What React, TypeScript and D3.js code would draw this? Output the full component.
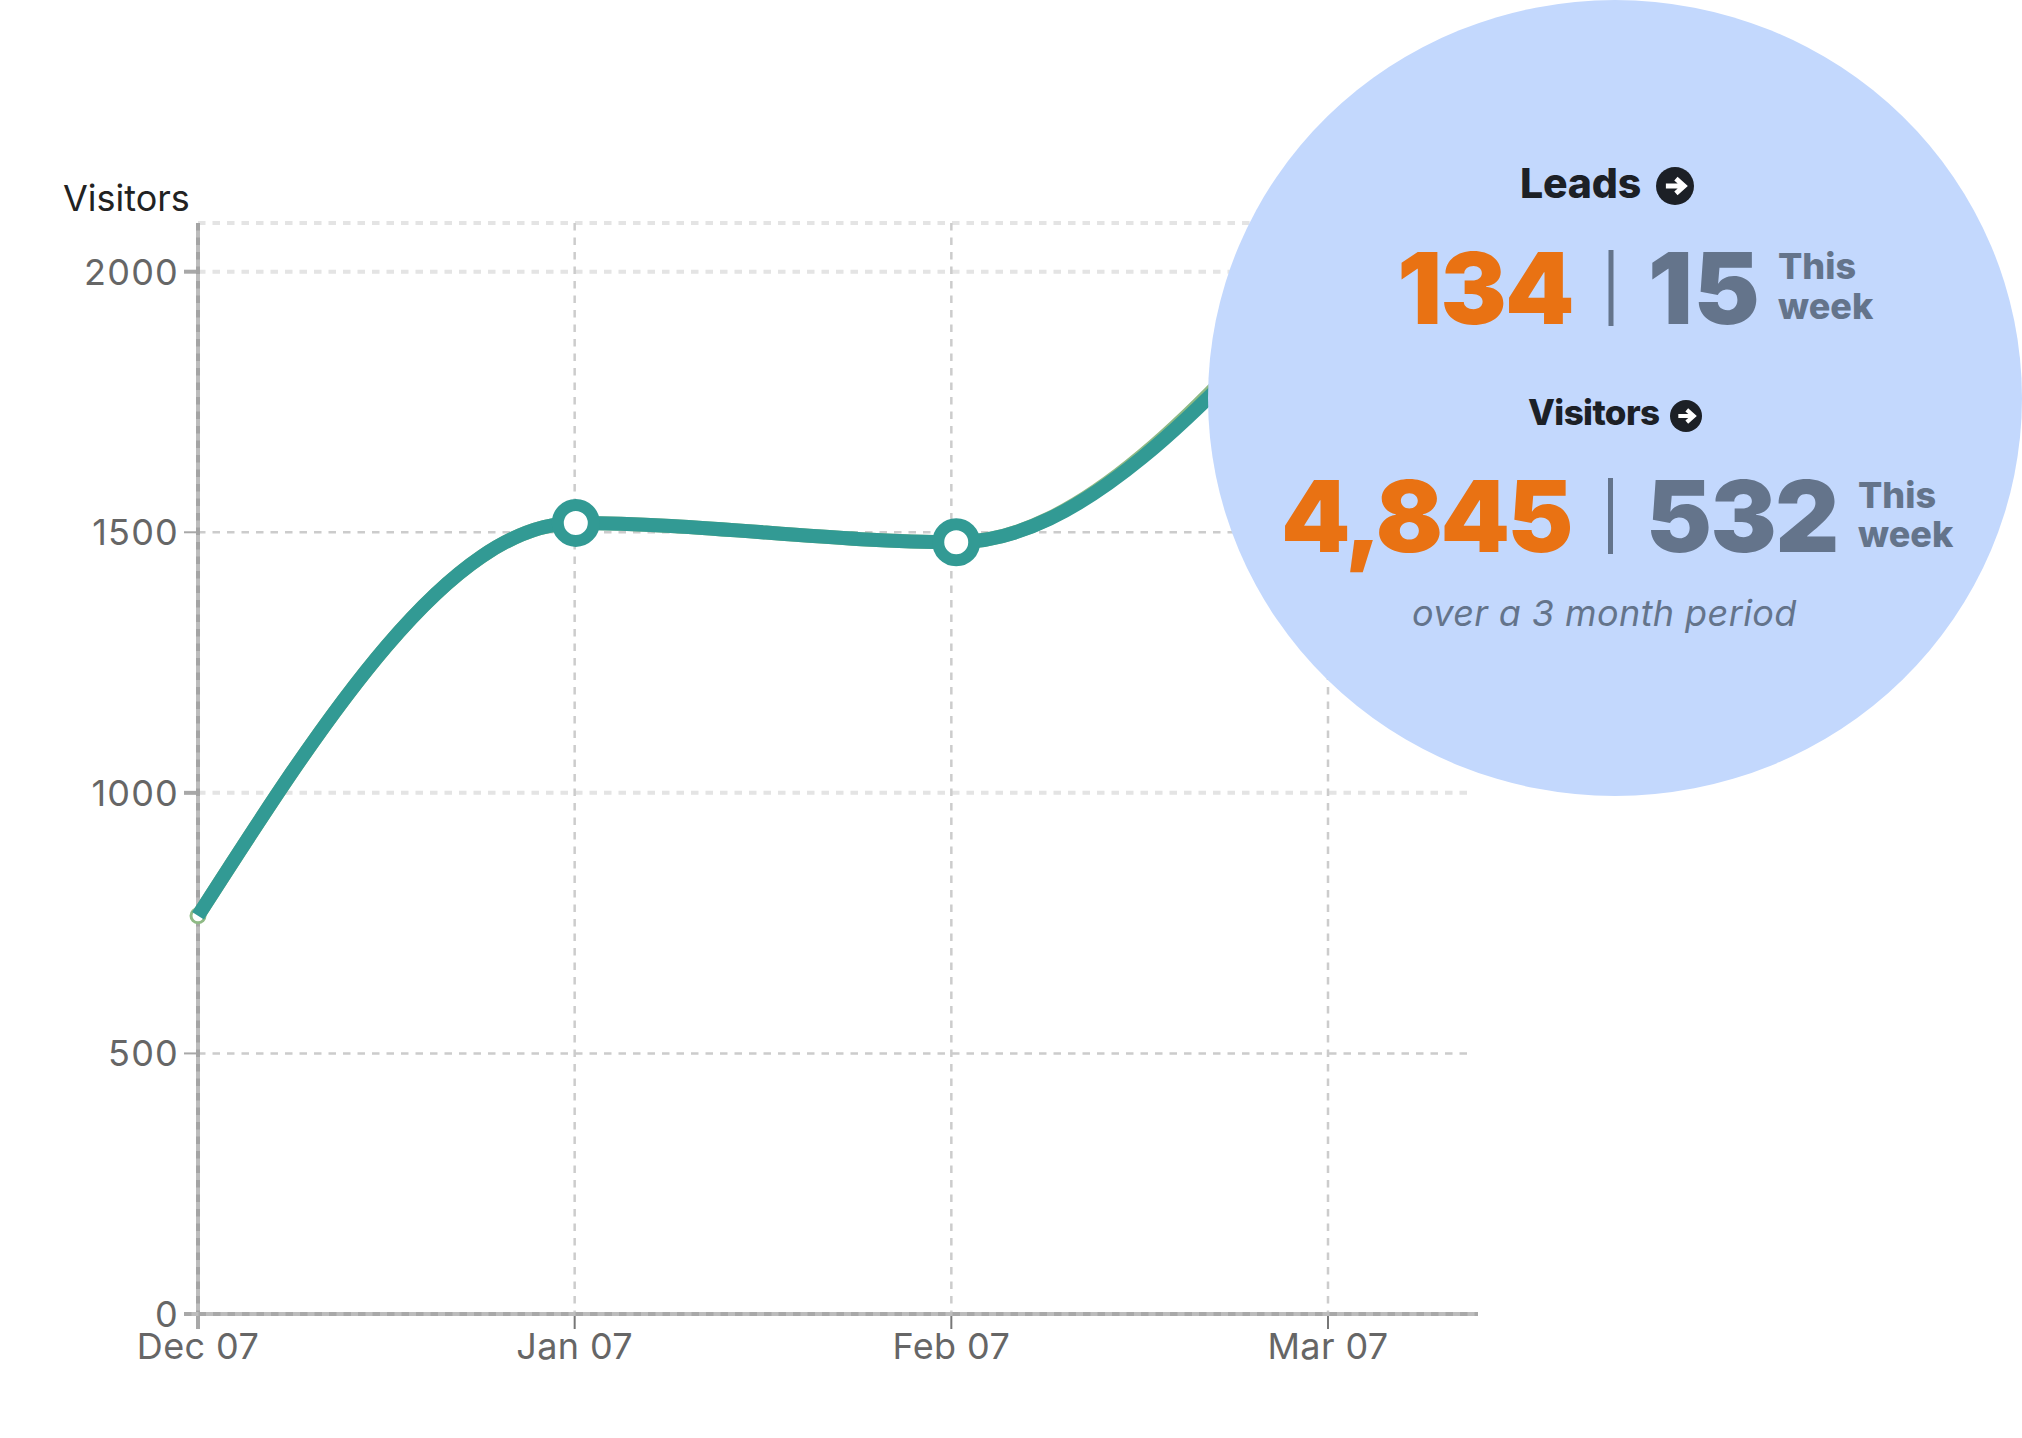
import React from 'react';
import * as d3 from 'd3';

const monthLabels = ['Dec 07', 'Jan 07', 'Feb 07', 'Mar 07'];
const yTicks = [0, 500, 1000, 1500, 2000];

// month position of each point (markers sit a bit right of the grid)
const pointMonths = [0, 1.003, 2.013, 3];
const visitorValues = [764, 1518, 1481, 2000];
// a second series hiding under the first one, only shows as a fringe after Feb
const fringeValues = [764, 1518, 1481, 2012];

const leads = { total: '134', week: '15' };
const visitors = { total: '4,845', week: '532' };

const FONT = 'Inter, Lato, sans-serif';
const TEAL = '#329a94';
const ORANGE = '#e97213';
const SLATE = '#64748b';
const INK = '#1c2026';

const width = 2022;
const height = 1438;

const x = d3.scaleLinear().domain([0, 3]).range([198, 1328]);
const y = d3.scaleLinear().domain([0, 2000]).range([1314, 271.7]);

const gridTop = 223;
const gridRight = 1472;

const lineGen = d3
  .line<number>()
  .x((_, i) => x(pointMonths[i]))
  .y((d) => y(d))
  .curve(d3.curveMonotoneX);

const Arrow: React.FC<{ cx: number; cy: number; r: number }> = ({ cx, cy, r }) => {
  const s = r * 0.48;
  return (
    <g>
      <circle cx={cx} cy={cy} r={r} fill={INK} />
      <path
        d={`M ${cx - s} ${cy} L ${cx + s} ${cy} M ${cx + s * 0.1} ${cy - s * 0.8} L ${cx + s} ${cy} L ${cx + s * 0.1} ${cy + s * 0.8}`}
        fill="none"
        stroke="#fff"
        strokeWidth={r * 0.26}
      />
    </g>
  );
};

const App: React.FC = () => {
  return (
    <svg
      width={width}
      height={height}
      viewBox={`0 0 ${width} ${height}`}
      style={{ position: 'absolute', left: 0, top: 0, background: '#fff', fontFamily: FONT }}
    >
      {/* top grid line */}
      <line x1={x(0)} x2={gridRight} y1={gridTop} y2={gridTop} stroke="#e4e4e4" strokeWidth={4} strokeDasharray="7.5 7" />

      {/* horizontal grid and y ticks */}
      {yTicks.map((t) => {
        const thick = t === 2000 || t === 1000;
        return (
          <g key={t}>
            {t > 0 && (
              <line
                x1={x(0)}
                x2={gridRight}
                y1={y(t)}
                y2={y(t)}
                stroke={thick ? '#e4e4e4' : '#cccccc'}
                strokeWidth={thick ? 4 : 2.5}
                strokeDasharray="7.5 7"
              />
            )}
            <line x1={184} x2={x(0)} y1={y(t)} y2={y(t)} stroke="#a8a8a8" strokeWidth={thick || t === 0 ? 4 : 2} />
            <text x={179} y={y(t) + 13} textAnchor="end" fontSize={36} fill="#666" letterSpacing={1.2}>
              {t}
            </text>
          </g>
        );
      })}

      {/* vertical grid and x ticks */}
      {monthLabels.map((m, i) => (
        <g key={m}>
          {i > 0 && (
            <line x1={x(i)} x2={x(i)} y1={gridTop} y2={y(0)} stroke="#cccccc" strokeWidth={2.5} strokeDasharray="7.5 7" />
          )}
          <line x1={x(i)} x2={x(i)} y1={y(0)} y2={1329} stroke={i === 0 ? '#a8a8a8' : '#777'} strokeWidth={i === 0 ? 4 : 2} />
          <text x={x(i)} y={1359} textAnchor="middle" fontSize={36} fill="#666" letterSpacing={0.4}>
            {m}
          </text>
        </g>
      ))}

      {/* axes, with the dashed grid showing through */}
      <line x1={x(0)} x2={x(0)} y1={gridTop} y2={y(0)} stroke="#bcbcbc" strokeWidth={4} />
      <line x1={x(0)} x2={x(0)} y1={gridTop} y2={y(0)} stroke="#a4a4a4" strokeWidth={4} strokeDasharray="7.5 7" />
      <line x1={184} x2={1478} y1={y(0)} y2={y(0)} stroke="#bcbcbc" strokeWidth={4} />
      <line x1={184} x2={1478} y1={y(0)} y2={y(0)} stroke="#a8a8a8" strokeWidth={4} strokeDasharray="7.5 7" />

      <text x={63} y={211} fontSize={36} fill="#222">
        Visitors
      </text>

      {/* series */}
      <path d={lineGen(fringeValues) ?? ''} fill="none" stroke="#8fba85" strokeWidth={14} />
      <circle cx={x(pointMonths[0])} cy={y(visitorValues[0])} r={7} fill="#fff" stroke="#8fba85" strokeWidth={3} />
      <path d={lineGen(visitorValues) ?? ''} fill="none" stroke={TEAL} strokeWidth={14} />
      {visitorValues.slice(1, 3).map((v, i) => (
        <circle key={i} cx={x(pointMonths[i + 1])} cy={y(v)} r={18} fill="#fff" stroke={TEAL} strokeWidth={12} />
      ))}

      {/* summary bubble */}
      <ellipse cx={1615} cy={398} rx={407} ry={398} fill="#c3d8fd" />

      <text x={1520} y={198} fontSize={41} fontWeight={800} fill={INK} letterSpacing={-0.2}>
        Leads
      </text>
      <Arrow cx={1675} cy={186} r={19} />

      <text x={1573} y={324} textAnchor="end" fontSize={99} fontWeight={900} fill={ORANGE} letterSpacing={-1.6}>
        {leads.total}
      </text>
      <rect x={1608.5} y={250} width={5} height={76} fill={SLATE} />
      <text x={1648} y={324} fontSize={99} fontWeight={900} fill={SLATE} letterSpacing={1}>
        {leads.week}
      </text>
      <text x={1778} y={279} fontSize={36} fontWeight={800} fill={SLATE}>
        This
      </text>
      <text x={1778} y={319} fontSize={36} fontWeight={800} fill={SLATE}>
        week
      </text>

      <text x={1528} y={425} fontSize={35} fontWeight={800} fill={INK} letterSpacing={-0.6}>
        Visitors
      </text>
      <Arrow cx={1686} cy={416} r={16} />

      <text x={1571} y={552} textAnchor="end" fontSize={99} fontWeight={900} fill={ORANGE} letterSpacing={-2.5}>
        {visitors.total}
      </text>
      <rect x={1608} y={478} width={5} height={76} fill={SLATE} />
      <text x={1646} y={552} fontSize={99} fontWeight={900} fill={SLATE} letterSpacing={-1.5}>
        {visitors.week}
      </text>
      <text x={1858} y={508} fontSize={36} fontWeight={800} fill={SLATE}>
        This
      </text>
      <text x={1858} y={547} fontSize={36} fontWeight={800} fill={SLATE}>
        week
      </text>

      <text x={1412} y={626} fontSize={36} fontStyle="italic" fill={SLATE} letterSpacing={0.4}>
        over a 3 month period
      </text>
    </svg>
  );
};

export default App;
